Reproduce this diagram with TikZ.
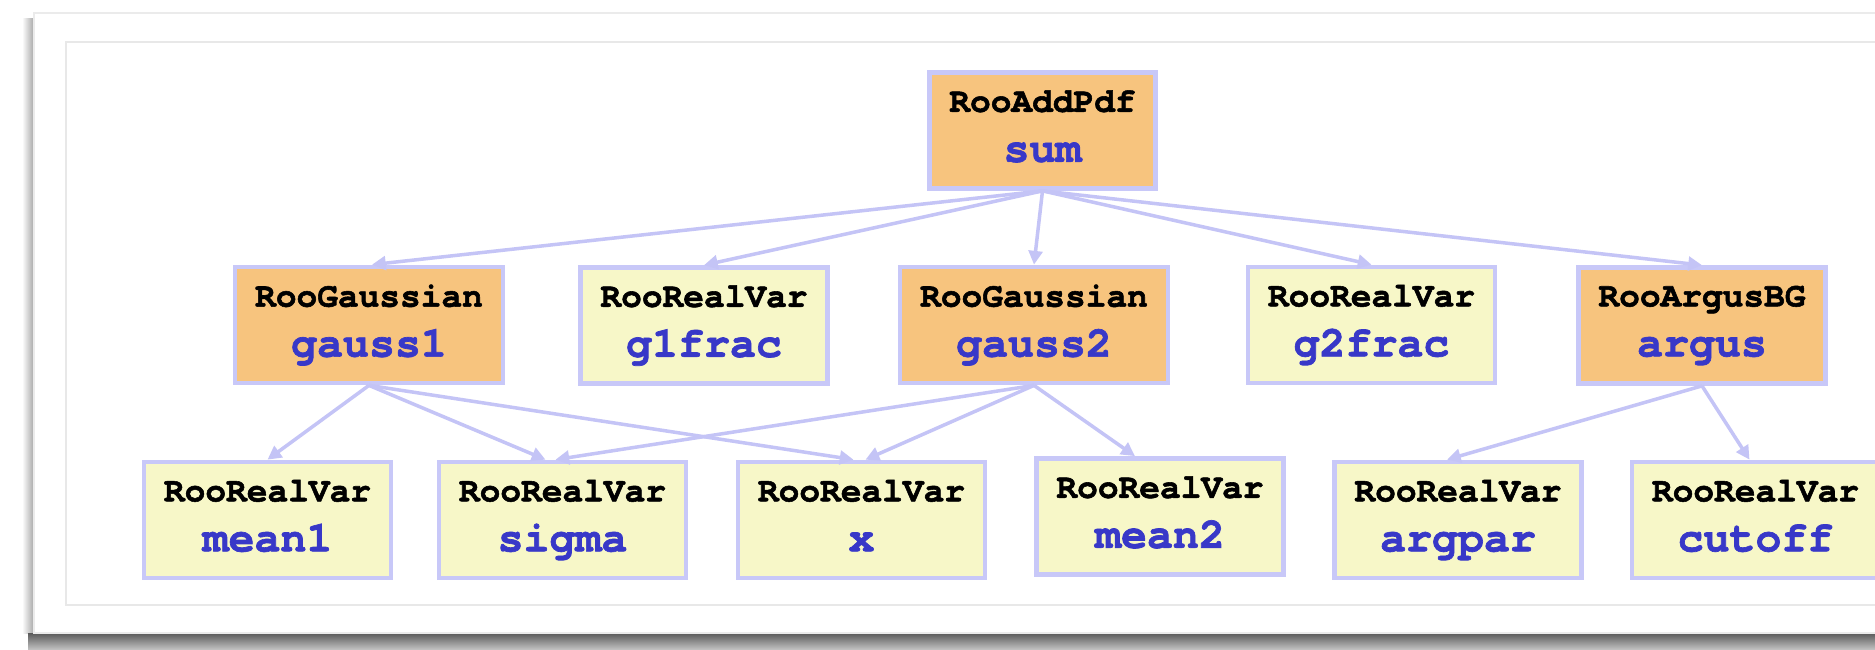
\documentclass[tikz,border=0pt]{standalone}
\usepackage{fontspec}
\newfontfamily\codefont{texgyrecursor}[Extension=.otf,
  UprightFont=*-regular, BoldFont=*-bold, Ligatures=NoCommon,
  BoldFeatures={FakeBold=1.6}]
\usetikzlibrary{arrows.meta,shadings}

\definecolor{pdffill}{HTML}{F7C47E}
\definecolor{varfill}{HTML}{F7F7C8}
\definecolor{edgeblue}{HTML}{C8C8F8}
\definecolor{linkblue}{HTML}{C4C4F6}
\definecolor{nameblue}{HTML}{3838C8}

% class name on the first line, object name (blue, larger) on the second
\newcommand{\objname}[1]{{\fontsize{17.3}{20}\selectfont\color{nameblue}#1\vphantom{g}}}

\tikzset{
  objbox/.style={draw=edgeblue, line width=1.8pt, rectangle,
    inner xsep=8pt, inner ysep=0pt, minimum height=46.5pt,
    align=center, text=black,
    font=\codefont\bfseries\fontsize{13.8}{20}\selectfont},
  pdfbox/.style={objbox, fill=pdffill},
  varbox/.style={objbox, fill=varfill},
  link/.style={draw=linkblue, line width=1.4pt,
    -{Triangle[length=5.5pt,width=5.5pt]}}
}

\begin{document}
\begin{tikzpicture}[x=0.4pt,y=-0.4pt]
\useasboundingbox (0,0) rectangle (1875,649);
\fill[white] (0,0) rectangle (1875,649);

% slide frame with drop shadow
\shade[left color=white, right color=black!35] (22,18) rectangle (34,633);
\shade[top color=black!65, bottom color=black!25] (28,633) rectangle (1875,649);
\filldraw[fill=white, draw=black!8, line width=0.8pt] (34,13) rectangle (1895,633);
\draw[black!9, line width=0.8pt] (66,42) rectangle (1895,605);

% top level p.d.f.
\node[pdfbox] (sum) at (1042.5,130.5) {RooAddPdf\\\objname{sum}};

% components and fractions
\node[pdfbox] (gauss1) at (369,325)    {RooGaussian\\\objname{gauss1}};
\node[varbox] (g1frac) at (704,325.5)  {RooRealVar\\\objname{g1frac}};
\node[pdfbox] (gauss2) at (1034,325)   {RooGaussian\\\objname{gauss2}};
\node[varbox] (g2frac) at (1371.5,325) {RooRealVar\\\objname{g2frac}};
\node[pdfbox] (argus)  at (1702,325.5) {RooArgusBG\\\objname{argus}};

% leaf variables
\node[varbox] (mean1)  at (267.5,520)  {RooRealVar\\\objname{mean1}};
\node[varbox] (sigma)  at (562.5,520)  {RooRealVar\\\objname{sigma}};
\node[varbox] (x)      at (861.5,520)  {RooRealVar\\\objname{x}};
\node[varbox] (mean2)  at (1160,516.5) {RooRealVar\\\objname{mean2}};
\node[varbox] (argpar) at (1458,520)   {RooRealVar\\\objname{argpar}};
\node[varbox] (cutoff) at (1755.5,520) {RooRealVar\\\objname{cutoff}};

% client -> server links
\draw[link] (sum.south) -- ([xshift=1.2pt]gauss1.north);
\draw[link] (sum.south) -- (g1frac.north);
\draw[link] (sum.south) -- (gauss2.north);
\draw[link] (sum.south) -- (g2frac.north);
\draw[link] (sum.south) -- (argus.north);

\draw[link] (gauss1.south) -- (mean1.north);
\draw[link] (gauss1.south) -- ([xshift=-6.8pt]sigma.north);
\draw[link] (gauss1.south) -- ([xshift=-3.2pt]x.north);

\draw[link] (gauss2.south) -- ([xshift=-2.8pt]sigma.north);
\draw[link] (gauss2.south) -- ([xshift=1.6pt]x.north);
\draw[link] (gauss2.south) -- ([xshift=-10pt]mean2.north);

\draw[link] (argus.south) -- ([xshift=-4.4pt]argpar.north);
\draw[link] (argus.south) -- ([xshift=-2.4pt]cutoff.north);
\end{tikzpicture}
\end{document}
